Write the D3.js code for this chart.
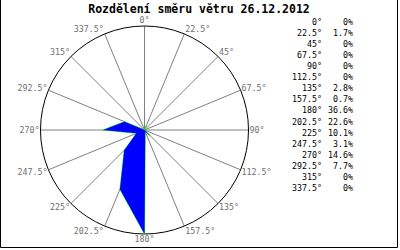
<!DOCTYPE html>
<meta charset="utf-8">
<script src="https://d3js.org/d3.v7.min.js"></script>
<style>
  body { margin: 0; background: #fff; }
  text { font-family: "DejaVu Sans Mono", monospace; }
</style>
<svg id="chart" width="400" height="250"></svg>
<script>

// data
const title = "Rozdělení směru větru 26.12.2012";
const angles = [0, 22.5, 45, 67.5, 90, 112.5, 135, 157.5, 180, 202.5, 225, 247.5, 270, 292.5, 315, 337.5];
const angleLabels = ["0°", "22.5°", "45°", "67.5°", "90°", "112.5°", "135°", "157.5°",
  "180°", "202.5°", "225°", "247.5°", "270°", "292.5°", "315°", "337.5°"];
const shares = [0, 1.7, 0, 0, 0, 0, 2.8, 0.7, 36.6, 22.6, 10.1, 3.1, 14.6, 7.7, 0, 0];

const svg = d3.select("#chart");
const cx = 144.5, cy = 130, R = 104;

// frame
svg.append("path")
  .attr("d", "M0.5,0V247.5H397.5V0")
  .attr("fill", "none")
  .attr("stroke", "#000");

// title
svg.append("text")
  .attr("x", 199)
  .attr("y", 13)
  .attr("text-anchor", "middle")
  .style("font-size", "11.5px")
  .style("font-weight", "bold")
  .text(title);

const g = svg.append("g").attr("transform", `translate(${cx},${cy})`);

const ang = d3.scaleLinear().domain([0, 360]).range([0, 2 * Math.PI]);
const rad = d3.scaleLinear().domain([0, d3.max(shares)]).range([0, R]);

// spokes
g.selectAll(".spoke")
  .data(angles)
  .enter().append("line")
  .attr("class", "spoke")
  .attr("x2", d => R * Math.sin(ang(d)))
  .attr("y2", d => -R * Math.cos(ang(d)))
  .attr("stroke", "#808080")
  .attr("stroke-width", 1);

// outer circle
g.append("circle")
  .attr("r", R)
  .attr("fill", "none")
  .attr("stroke", "#000");

// wind polygon
const line = d3.lineRadial()
  .angle((d, i) => ang(angles[i]))
  .radius(d => rad(d))
  .curve(d3.curveLinearClosed);

g.append("path")
  .datum(shares)
  .attr("d", line)
  .attr("fill", "#0000ff")
  .attr("stroke", "#00ff00")
  .attr("stroke-width", 0.8)
  .style("paint-order", "stroke");

// labels round the circle
g.selectAll(".dirlabel")
  .data(angles)
  .enter().append("text")
  .attr("class", "dirlabel")
  .attr("x", d => {
    const s = Math.sin(ang(d));
    return R * s + (Math.abs(s) < 0.01 ? 0 : (s > 0 ? 1 : -1));
  })
  .attr("y", d => -R * Math.cos(ang(d)) - 5.5 * Math.cos(ang(d)))
  .attr("dy", "0.35em")
  .attr("text-anchor", d => {
    const s = Math.sin(ang(d));
    return Math.abs(s) < 0.01 ? "middle" : (s > 0 ? "start" : "end");
  })
  .attr("fill", "#707070")
  .style("font-size", "8.3px")
  .text((d, i) => angleLabels[i]);

// table at right
const rowY = d3.scaleLinear().domain([0, angles.length - 1]).range([22, 188]);
const fmt = v => (v === 0 ? "0" : d3.format(".1f")(v)) + "%";

const rows = svg.append("g").selectAll("g")
  .data(shares)
  .enter().append("g")
  .attr("transform", (d, i) => `translate(0,${rowY(i)})`);

rows.append("text")
  .attr("x", 322)
  .attr("dy", "0.35em")
  .attr("text-anchor", "end")
  .style("font-size", "8.3px")
  .text((d, i) => angleLabels[i]);

rows.append("text")
  .attr("x", 353)
  .attr("dy", "0.35em")
  .attr("text-anchor", "end")
  .style("font-size", "8.3px")
  .text(d => fmt(d));

</script>
